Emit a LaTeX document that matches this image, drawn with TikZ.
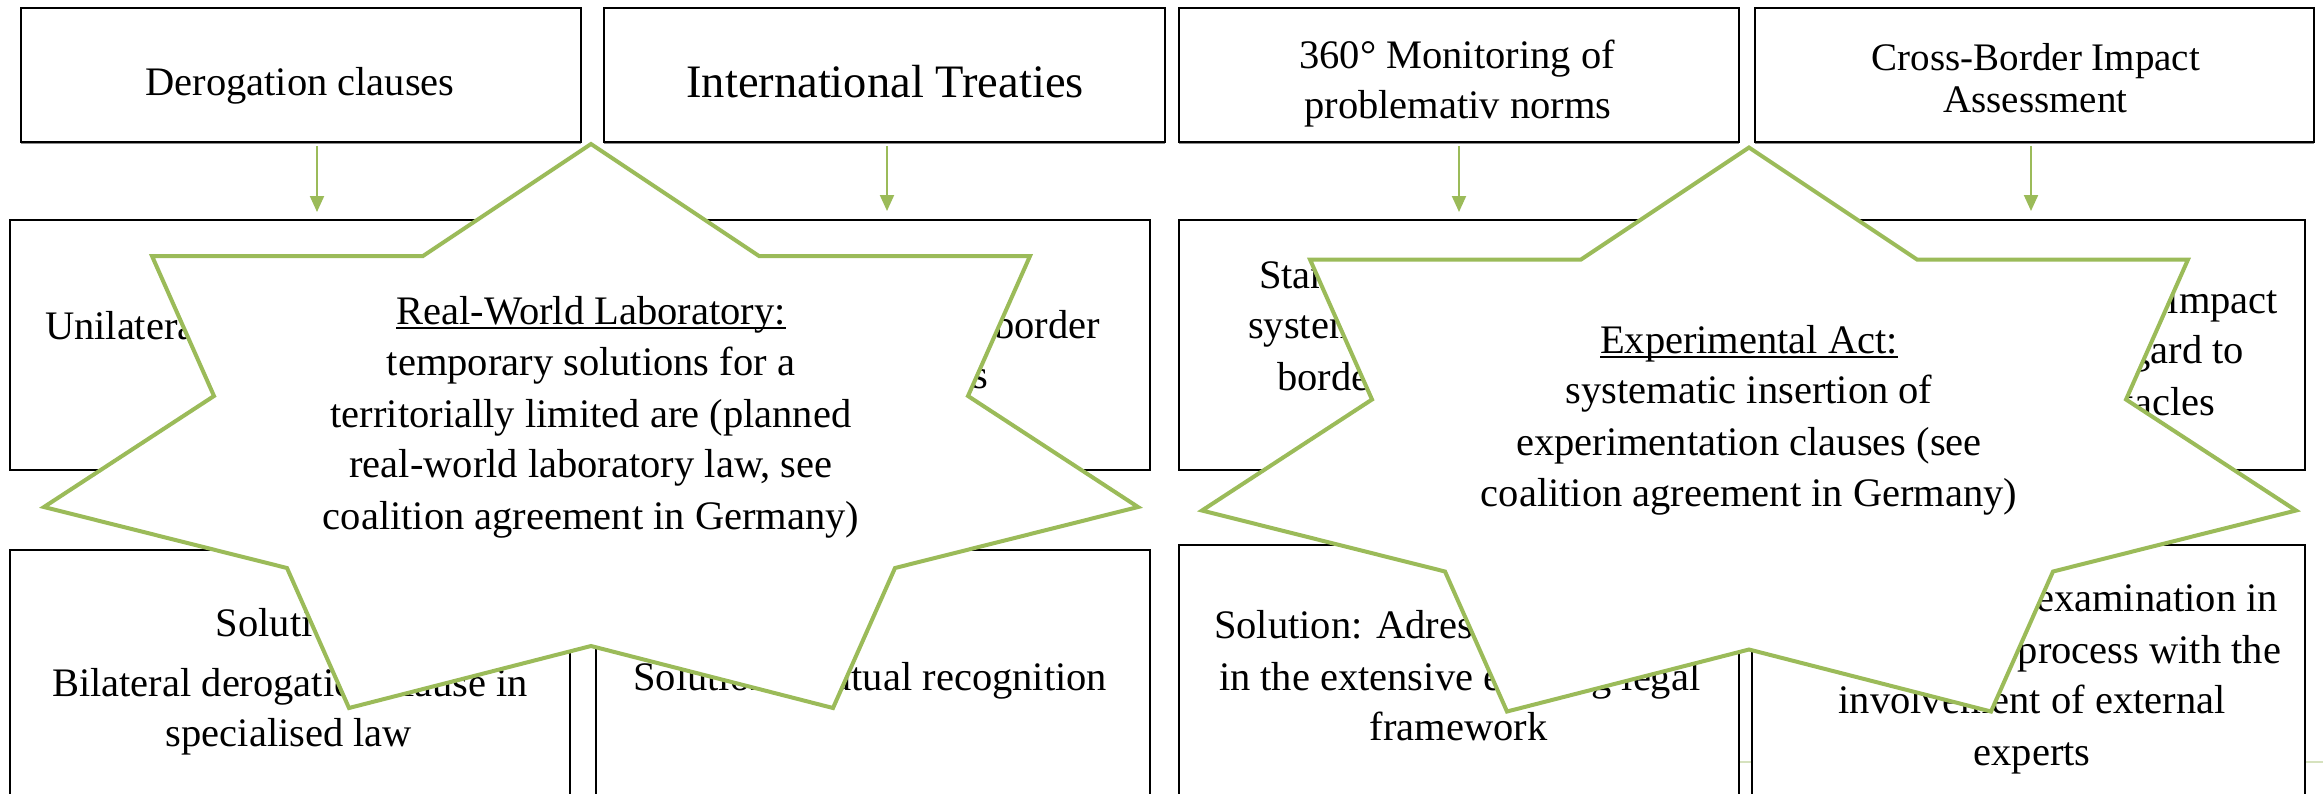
\documentclass[tikz,border=0pt]{standalone}
\usepackage{fontspec}
\setmainfont{Liberation Serif}
\usetikzlibrary{arrows.meta}
\definecolor{stargreen}{RGB}{155,187,89}
\definecolor{faintgreen}{RGB}{214,226,190}
\newcommand{\myul}[1]{\setbox0=\hbox{#1}\rlap{\rule[-5pt]{\wd0}{2pt}}\box0}
\newcommand{\mybox}[5]{\node[box,minimum width={(#4-#2)*1pt},minimum height={(#5-#3)*1pt}] (#1) at ({(#2+#4)/2},{(#3+#5)/2}) {};}
\begin{document}
\begin{tikzpicture}[x=1pt,y=-1pt,
  box/.style={draw=black,line width=2pt,fill=white,inner sep=0pt,outer sep=0pt,rectangle},
  txt/.style={inner sep=0pt,outer sep=0pt,font=\fontsize{40.5}{51}\selectfont},
  bigtxt/.style={inner sep=0pt,outer sep=0pt,font=\fontsize{46.5}{56}\selectfont},
  smtxt/.style={inner sep=0pt,outer sep=0pt,font=\fontsize{39}{42}\selectfont},
  arr/.style={draw=stargreen,line width=2pt,-{Triangle[width=14pt,length=16pt]}},
  starline/.style={draw=stargreen,line width=4pt,fill=white,line join=miter},
  faintline/.style={draw=faintgreen,line width=2pt},
  shadowline/.style={draw=black!45,line width=1.5pt}
]
\clip (0,0) rectangle (2323,793);
\fill[white] (0,0) rectangle (2323,793);

% faint line behind the lower boxes
\coordinate (fl1) at (1739,761.5);
\coordinate (fl2) at (2323,761.5);
\draw[faintline] (fl1) -- (fl2);

% top row
\mybox{t1}{21}{7.5}{581}{141.5}
\mybox{t2}{604}{7.5}{1165}{141.5}
\mybox{t3}{1178.5}{7.5}{1738.5}{141.5}
\mybox{t4}{1755}{7.5}{2314}{141.5}
\foreach \b in {t1,t2,t3,t4}{
  \draw[shadowline] ([yshift=-2pt]\b.south west) -- ([yshift=-2pt]\b.south east);
}
% middle row
\mybox{m1}{10}{220}{570}{470}
\mybox{m2}{596}{220}{1150}{470}
\mybox{m3}{1179}{220}{1739}{470}
\mybox{m4}{1752}{220}{2305}{470}
% bottom row
\mybox{b1}{10}{550}{570}{830}
\mybox{b2}{596}{550}{1150}{830}
\mybox{b3}{1179}{545}{1739}{830}
\mybox{b4}{1752}{545}{2305}{830}

% top texts
\node[txt,anchor=base] (t1a) at (300,95) {Derogation clauses};
\node[bigtxt,anchor=base] (t2a) at (885,97) {International Treaties};
\node[txt,anchor=base] (t3a) at (1457,68) {360° Monitoring of};
\node[txt,anchor=base] (t3b) at (1458,118) {problemativ norms};
\node[smtxt,anchor=base] (t4a) at (2036,70) {Cross-Border Impact};
\node[smtxt,anchor=base] (t4b) at (2035.5,112) {Assessment};

% middle texts (partly covered by the stars)
\node[txt,anchor=base west] (m1a) at (45,339) {Unilateral};
\node[txt,anchor=base east] (m2a) at (1100,338) {cross-border};
\node[txt,anchor=base east] (m2b) at (988,388) {obstacles};
\node[txt,anchor=base west] (m3a) at (1259,288) {Standardised};
\node[txt,anchor=base west] (m3b) at (1248,338) {systematic};
\node[txt,anchor=base west] (m3c) at (1277,390) {border};
\node[txt,anchor=base east] (m4a) at (2278,313) {impact};
\node[txt,anchor=base east] (m4b) at (2244,363) {regard to};
\node[txt,anchor=base east] (m4c) at (2215,415) {obstacles};

% bottom texts
\node[txt,anchor=base] (b1a) at (290,636) {Solution:};
\node[txt,anchor=base] (b1b) at (290,696) {Bilateral derogation clause in};
\node[txt,anchor=base] (b1c) at (289,746) {specialised law};
\node[txt,anchor=base east] (b2a) at (1107,690) {Solution: Mutual recognition};
\node[txt,anchor=base west] (b3a) at (1214,638) {Solution: Adressing};
\node[txt,anchor=base west] (b3b) at (1219,690) {in the extensive existing legal};
\node[txt,anchor=base] (b3c) at (1458.5,740) {framework};
\node[txt,anchor=base east] (b4a) at (2278,611) {examination in};
\node[txt,anchor=base east] (b4b) at (2281,663) {process with the};
\node[txt,anchor=base] (b4c) at (2032,713) {involvement of external};
\node[txt,anchor=base] (b4d) at (2032,765) {experts};

% arrows
\draw[arr] ([xshift=16pt,yshift=-4.5pt]t1.south) -- ([xshift=27pt,yshift=8pt]m1.north);
\draw[arr] ([xshift=2.5pt,yshift=-4.5pt]t2.south) -- ([xshift=14pt,yshift=9pt]m2.north);
\draw[arr] ([xshift=0.5pt,yshift=-4.5pt]t3.south) -- ([xshift=0pt,yshift=8pt]m3.north);
\draw[arr] ([xshift=-3.5pt,yshift=-4.5pt]t4.south) -- ([xshift=2.5pt,yshift=9pt]m4.north);

% star 1
\begin{scope}[shift={(591,0)}]
\path[starline] (0,144) -- (168,256) -- (439,256) -- (377,396) -- (547,507) -- (304,568) -- (242,708) -- (0,646)
  -- (-242,708) -- (-304,568) -- (-547,507) -- (-377,396) -- (-439,256) -- (-168,256) -- cycle;
\end{scope}
\node[txt,anchor=base] (s1a) at (591,324) {\myul{Real-World Laboratory:}};
\node[txt,anchor=base] (s1b) at (591,375) {temporary solutions for a};
\node[txt,anchor=base] (s1c) at (591,427) {territorially limited are (planned};
\node[txt,anchor=base] (s1d) at (591,477) {real-world laboratory law, see};
\node[txt,anchor=base] (s1e) at (591,529) {coalition agreement in Germany)};

% star 2
\begin{scope}[shift={(1749,3.5)}]
\path[starline] (0,144) -- (168,256) -- (439,256) -- (377,396) -- (547,507) -- (304,568) -- (242,708) -- (0,646)
  -- (-242,708) -- (-304,568) -- (-547,507) -- (-377,396) -- (-439,256) -- (-168,256) -- cycle;
\end{scope}
\node[txt,anchor=base] (s2a) at (1749,353) {\myul{Experimental Act:}};
\node[txt,anchor=base] (s2b) at (1749,403) {systematic insertion of};
\node[txt,anchor=base] (s2c) at (1749,455) {experimentation clauses (see};
\node[txt,anchor=base] (s2d) at (1749,506) {coalition agreement in Germany)};
\end{tikzpicture}
\end{document}
